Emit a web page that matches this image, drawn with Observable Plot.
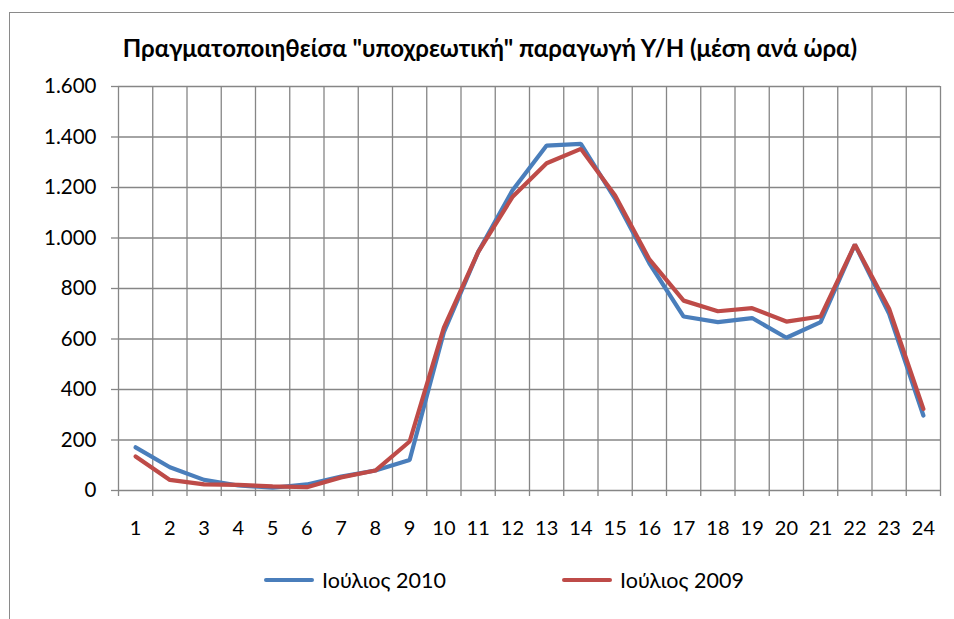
<!DOCTYPE html>
<html>
<head>
<meta charset="utf-8">
<script src="https://cdn.jsdelivr.net/npm/d3@7"></script>
<script src="https://cdn.jsdelivr.net/npm/@observablehq/plot@0.6"></script>
<style>
  html, body { margin: 0; padding: 0; background: #fff; }
  #wrap { position: relative; width: 954px; height: 619px; overflow: hidden; font-family: Lato, "Open Sans", sans-serif; }
  #frame { position: absolute; left: 9px; top: 12px; width: 1000px; height: 700px; border: 1.5px solid #8a8a8a; box-sizing: border-box; }
  #title { position: absolute; left: 0; top: 33px; width: 980px; text-align: center; font-weight: bold; font-size: 24px; line-height: 30px; color: #000; white-space: nowrap; }
  #chart { position: absolute; left: 0; top: 0; }
  .leg { position: absolute; top: 567px; display: flex; align-items: center; font-size: 21.5px; color: #000; white-space: nowrap; }
  .sw { width: 50px; height: 4px; border-radius: 2px; margin-right: 8px; }
</style>
</head>
<body>
<div id="wrap">
  <div id="frame"></div>
  <div id="chart"></div>
  <div id="title">Πραγματοποιηθείσα "υποχρεωτική" παραγωγή Υ/Η (μέση ανά ώρα)</div>
  <div id="legend"></div>
</div>
<script>
const hours = [1,2,3,4,5,6,7,8,9,10,11,12,13,14,15,16,17,18,19,20,21,22,23,24];
const seriesNames = ["Ιούλιος 2010", "Ιούλιος 2009"];
const seriesColors = ["#4a7ebb", "#be4b48"];
const jul2010 = [171, 92, 42, 20, 11, 24, 55, 79, 121, 627, 944, 1188, 1366, 1373, 1155, 900, 689, 667, 683, 605, 667, 974, 700, 297];
const jul2009 = [135, 42, 24, 22, 16, 13, 52, 79, 194, 645, 944, 1162, 1296, 1353, 1168, 915, 752, 710, 722, 669, 689, 974, 720, 323];
const yTicks = [0, 200, 400, 600, 800, 1000, 1200, 1400, 1600];

const rows = [];
hours.forEach((h, i) => {
  rows.push({hour: h, value: jul2010[i], series: seriesNames[0]});
});
hours.forEach((h, i) => {
  rows.push({hour: h, value: jul2009[i], series: seriesNames[1]});
});
const boundaries = [0].concat(hours).map(h => h + 0.5);
const fmt = d3.formatLocale({decimal: ",", thousands: ".", grouping: [3], currency: ["", "€"]}).format(",d");
const grid = "#868686";

const chart = Plot.plot({
  width: 954,
  height: 619,
  marginLeft: 118,
  marginRight: 14,
  marginTop: 86,
  marginBottom: 129,
  style: {fontFamily: "Lato, 'Open Sans', sans-serif", background: "transparent"},
  x: {type: "linear", domain: [0.5, 24.5], label: null},
  y: {domain: [0, 1600], label: null},
  color: {domain: seriesNames, range: seriesColors},
  marks: [
    Plot.gridX(boundaries, {stroke: grid, strokeOpacity: 1, strokeWidth: 1.3}),
    Plot.gridY(yTicks, {stroke: grid, strokeOpacity: 1, strokeWidth: 1.3}),
    Plot.axisY(yTicks, {tickSize: 7, tickPadding: 15, tickFormat: fmt, fontSize: 20.5, stroke: grid, strokeWidth: 1.3, fill: "#000"}),
    Plot.axisX(boundaries, {tickSize: 6, tickFormat: () => "", stroke: grid, strokeWidth: 1.3}),
    Plot.axisX(hours, {tickSize: 0, tickPadding: 30, fontSize: 20, fill: "#000"}),
    Plot.line(rows, {x: "hour", y: "value", z: "series", stroke: "series", strokeWidth: 4.2, strokeLinejoin: "miter", strokeLinecap: "round"})
  ]
});
document.getElementById("chart").appendChild(chart);

const legendPos = [264, 562];
const legend = document.getElementById("legend");
seriesNames.forEach((name, i) => {
  const item = document.createElement("div");
  item.className = "leg";
  item.style.left = legendPos[i] + "px";
  const sw = document.createElement("div");
  sw.className = "sw";
  sw.style.background = seriesColors[i];
  const t = document.createElement("span");
  t.textContent = name;
  item.appendChild(sw);
  item.appendChild(t);
  legend.appendChild(item);
});
</script>
</body>
</html>
